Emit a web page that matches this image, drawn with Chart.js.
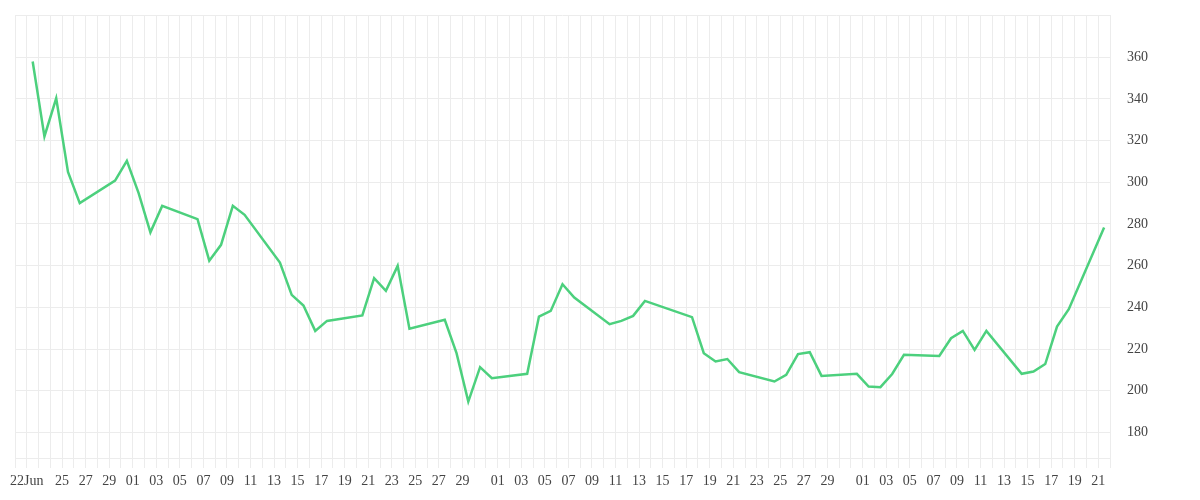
<!DOCTYPE html>
<html>
<head>
<meta charset="utf-8">
<script src="https://cdn.jsdelivr.net/npm/chart.js@4.4.1/dist/chart.umd.min.js"></script>
<style>
  html, body { margin: 0; padding: 0; background: #fff; }
  #wrap { width: 1200px; height: 500px; position: relative; }
</style>
</head>
<body>
<div id="wrap"><canvas id="graph_prix"></canvas></div>
<script>
/*------------------------------*/
/*        DONNEES               */
/*------------------------------*/
var dates = [
  '2020-06-22','2020-06-23','2020-06-24','2020-06-25','2020-06-26',
  '2020-06-29','2020-06-30','2020-07-01','2020-07-02','2020-07-03',
  '2020-07-06','2020-07-07','2020-07-08','2020-07-09','2020-07-10',
  '2020-07-13','2020-07-14','2020-07-15','2020-07-16','2020-07-17',
  '2020-07-20','2020-07-21','2020-07-22','2020-07-23','2020-07-24',
  '2020-07-27','2020-07-28','2020-07-29','2020-07-30','2020-07-31',
  '2020-08-03','2020-08-04','2020-08-05','2020-08-06','2020-08-07',
  '2020-08-10','2020-08-11','2020-08-12','2020-08-13',
  '2020-08-17','2020-08-18','2020-08-19','2020-08-20','2020-08-21',
  '2020-08-24','2020-08-25','2020-08-26','2020-08-27','2020-08-28',
  '2020-08-31','2020-09-01','2020-09-02','2020-09-03','2020-09-04',
  '2020-09-07','2020-09-08','2020-09-09','2020-09-10','2020-09-11',
  '2020-09-14','2020-09-15','2020-09-16','2020-09-17','2020-09-18',
  '2020-09-21'
]
var values = [
  358, 322, 340.3, 305, 290,
  300.8, 310.3, 294.8, 276, 288.7,
  282.3, 262.4, 270, 288.7, 284.4,
  261.5, 246, 240.9, 228.7, 233.5,
  236.1, 254, 247.9, 259.9, 229.7,
  234, 218, 194.8, 211.3, 206,
  208.1, 235.6, 238.3, 251.1, 244.7,
  231.9, 233.5, 235.9, 243.1,
  235.3, 218, 214, 215.2, 208.9,
  204.4, 207.6, 217.6, 218.5, 207.1,
  208.1, 202, 201.7, 208, 217.2,
  216.7, 225.2, 228.7, 219.6, 228.7,
  208.1, 209.2, 212.8, 230.8, 239.1,
  278.3
]
var tickDates = [
  '2020-06-22','2020-06-25','2020-06-27','2020-06-29',
  '2020-07-01','2020-07-03','2020-07-05','2020-07-07','2020-07-09','2020-07-11','2020-07-13','2020-07-15',
  '2020-07-17','2020-07-19','2020-07-21','2020-07-23','2020-07-25','2020-07-27','2020-07-29',
  '2020-08-01','2020-08-03','2020-08-05','2020-08-07','2020-08-09','2020-08-11','2020-08-13','2020-08-15',
  '2020-08-17','2020-08-19','2020-08-21','2020-08-23','2020-08-25','2020-08-27','2020-08-29',
  '2020-09-01','2020-09-03','2020-09-05','2020-09-07','2020-09-09','2020-09-11','2020-09-13','2020-09-15',
  '2020-09-17','2020-09-19','2020-09-21'
]
var tickLabels = [
  '22Jun','25','27','29',
  '01','03','05','07','09','11','13','15',
  '17','19','21','23','25','27','29',
  '01','03','05','07','09','11','13','15',
  '17','19','21','23','25','27','29',
  '01','03','05','07','09','11','13','15',
  '17','19','21'
]
var yTicks = [180, 200, 220, 240, 260, 280, 300, 320, 340, 360]

/*------------------------------*/
/*        GRAPHIQUE             */
/*------------------------------*/
var DAY = 86400000
var start = Date.parse('2020-06-22T00:00:00Z')
function dayOf(d, hour) {
  return (Date.parse(d + 'T' + hour + ':00:00Z') - start) / DAY
}

var points = dates.map(function (d, i) { return { x: dayOf(d, '12'), y: values[i] } })
var labelAt = {}
tickDates.forEach(function (d, i) { labelAt[dayOf(d, '00')] = tickLabels[i] })

var gridColor = '#ececec'
var textFont = { family: "'Liberation Serif', serif", size: 14 }

var ctx = document.getElementById('graph_prix').getContext('2d')
var graph = new Chart(ctx, {
  type: 'line',
  data: {
    datasets: [{
      data: points,
      borderColor: 'rgb(76, 208, 125)',
      backgroundColor: 'rgb(76, 208, 125)',
      borderWidth: 2.5,
      pointRadius: 0,
      tension: 0,
      fill: false
    }]
  },
  options: {
    responsive: true,
    maintainAspectRatio: false,
    animation: false,
    layout: { padding: { left: 15, top: 15, right: 0, bottom: 0 } },
    plugins: { legend: { display: false }, tooltip: { enabled: false } },
    scales: {
      x: {
        type: 'linear',
        min: -1,
        max: 92,
        afterFit: function (s) { s.height = 42; s.paddingLeft = 0; s.paddingRight = 0 },
        ticks: {
          stepSize: 1,
          autoSkip: false,
          maxRotation: 0,
          padding: 5,
          color: '#444',
          font: textFont,
          callback: function (v) { return labelAt[v] || '' }
        },
        grid: { color: gridColor, tickColor: gridColor, tickLength: 10, drawTicks: true },
        border: { color: gridColor }
      },
      y: {
        position: 'right',
        min: 167.7,
        max: 380.3,
        afterFit: function (s) { s.width = 90; s.paddingTop = 0; s.paddingBottom = 0 },
        afterBuildTicks: function (s) {
          s.ticks = [s.min].concat(yTicks, [s.max]).map(function (v) { return { value: v } })
        },
        ticks: {
          padding: 17,
          crossAlign: 'near',
          color: '#444',
          font: textFont,
          callback: function (v) { return yTicks.indexOf(v) >= 0 ? String(v) : '' }
        },
        grid: { color: gridColor, drawTicks: false },
        border: { display: false }
      }
    }
  }
})
</script>
</body>
</html>
